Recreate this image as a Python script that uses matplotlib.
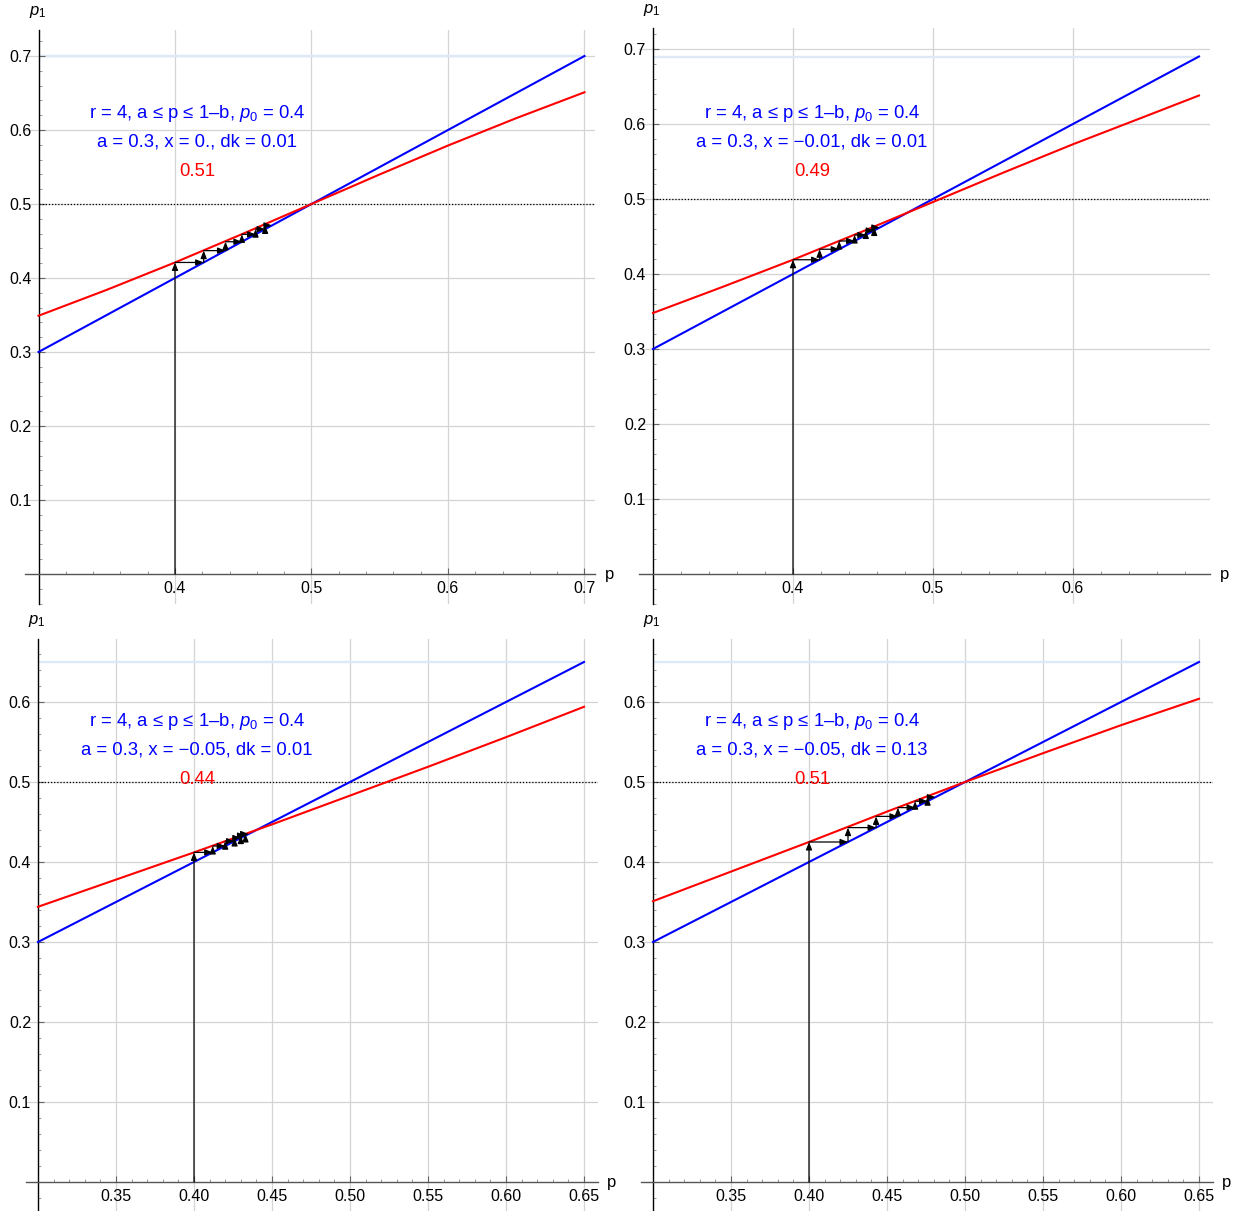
import numpy as np
import matplotlib
matplotlib.use("Agg")
import matplotlib.pyplot as plt
from matplotlib.ticker import FixedLocator, MultipleLocator, FuncFormatter

plt.rcParams['font.family'] = ['Liberation Sans', 'DejaVu Sans']
plt.rcParams['mathtext.fontset'] = 'custom'
plt.rcParams['mathtext.rm'] = 'Liberation Sans'
plt.rcParams['mathtext.it'] = 'Liberation Sans:italic'

W, H = 1239, 1211

# ---------------- data ----------------
# upper bound 1-b of each panel
upper = [0.70, 0.69, 0.65, 0.65]

# red map curve samples
p_tl = [0.30, 0.35, 0.40, 0.45, 0.50, 0.55, 0.60, 0.65, 0.70]
f_tl = [0.349, 0.384, 0.421, 0.460, 0.500, 0.540, 0.579, 0.616, 0.651]
p_tr = [0.30, 0.35, 0.40, 0.45, 0.50, 0.55, 0.60, 0.65, 0.69]
f_tr = [0.348, 0.383, 0.419, 0.457, 0.496, 0.535, 0.573, 0.609, 0.638]
p_bl = [0.30, 0.35, 0.40, 0.45, 0.50, 0.55, 0.60, 0.65]
f_bl = [0.344, 0.378, 0.412, 0.447, 0.483, 0.519, 0.556, 0.594]
p_br = [0.30, 0.35, 0.40, 0.45, 0.50, 0.55, 0.60, 0.65]
f_br = [0.351, 0.388, 0.425, 0.463, 0.500, 0.536, 0.571, 0.604]

# cobweb iterates (p0 = 0.4)
cob_tl = [0.400, 0.421, 0.437, 0.449, 0.459, 0.466, 0.471]
cob_tr = [0.400, 0.419, 0.433, 0.444, 0.452, 0.458, 0.462]
cob_bl = [0.400, 0.412, 0.420, 0.426, 0.430, 0.433, 0.435]
cob_br = [0.400, 0.425, 0.443, 0.457, 0.468, 0.476, 0.481]

line1 = ["r = 4, a \u2264 p \u2264 1\u2013b, $p_0$ = 0.4"] * 4
line2 = ["a = 0.3, x = 0., dk = 0.01",
         "a = 0.3, x = \u22120.01, dk = 0.01",
         "a = 0.3, x = \u22120.05, dk = 0.01",
         "a = 0.3, x = \u22120.05, dk = 0.13"]
red_labels = ["0.51", "0.49", "0.44", "0.51"]

xticks_top_tl = [0.4, 0.5, 0.6, 0.7]
xticks_top_tr = [0.4, 0.5, 0.6]
xticks_bottom = [0.35, 0.40, 0.45, 0.50, 0.55, 0.60, 0.65]
yticks_top = [0.1, 0.2, 0.3, 0.4, 0.5, 0.6, 0.7]
yticks_bottom = [0.1, 0.2, 0.3, 0.4, 0.5, 0.6]

# ---------------- layout ----------------
panels = [
    dict(x0=38.5, sx=1365, y0=574, sy=740, xlim=(0.29, 0.708), ylim=(-0.04, 0.735),
         p=p_tl, f=f_tl, cob=cob_tl, xt=xticks_top_tl, yt=yticks_top, xminor=0.02, xfmt="%.1f",
         txt_x=197, txt_y=(114, 142, 171)),
    dict(x0=653, sx=1400, y0=574, sy=750, xlim=(0.29, 0.698), ylim=(-0.04, 0.728),
         p=p_tr, f=f_tr, cob=cob_tr, xt=xticks_top_tr, yt=yticks_top, xminor=0.02, xfmt="%.1f",
         txt_x=812, txt_y=(114, 142, 171)),
    dict(x0=38, sx=1560, y0=1182, sy=800, xlim=(0.292, 0.659), ylim=(-0.037, 0.679),
         p=p_bl, f=f_bl, cob=cob_bl, xt=xticks_bottom, yt=yticks_bottom, xminor=0.01, xfmt="%.2f",
         txt_x=197, txt_y=(721, 750, 779)),
    dict(x0=653, sx=1560, y0=1182, sy=800, xlim=(0.292, 0.659), ylim=(-0.037, 0.679),
         p=p_br, f=f_br, cob=cob_br, xt=xticks_bottom, yt=yticks_bottom, xminor=0.01, xfmt="%.2f",
         txt_x=812, txt_y=(721, 750, 779)),
]

fig = plt.figure(figsize=(W / 100, H / 100), dpi=100)

for i, P in enumerate(panels):
    left = P['x0'] + (P['xlim'][0] - 0.3) * P['sx']
    right = P['x0'] + (P['xlim'][1] - 0.3) * P['sx']
    bottom = P['y0'] - P['ylim'][0] * P['sy']
    top = P['y0'] - P['ylim'][1] * P['sy']
    ax = fig.add_axes([left / W, 1 - bottom / H, (right - left) / W, (bottom - top) / H])
    ax.set_xlim(*P['xlim'])
    ax.set_ylim(*P['ylim'])
    ax.patch.set_alpha(0)

    for s in ['top', 'right']:
        ax.spines[s].set_visible(False)
    ax.spines['left'].set_position(('data', 0.3))
    ax.spines['bottom'].set_position(('data', 0.0))
    ax.spines['left'].set_color('black')
    ax.spines['bottom'].set_color('#555555')
    ax.spines['left'].set_linewidth(1.0)
    ax.spines['bottom'].set_linewidth(1.0)

    ax.xaxis.set_major_locator(FixedLocator(P['xt']))
    ax.yaxis.set_major_locator(FixedLocator(P['yt']))
    ax.xaxis.set_minor_locator(MultipleLocator(P['xminor']))
    ax.yaxis.set_minor_locator(MultipleLocator(0.02))
    fmt = P['xfmt']
    ax.xaxis.set_major_formatter(FuncFormatter(lambda v, pos, fmt=fmt: fmt % v))
    ax.yaxis.set_major_formatter(FuncFormatter(lambda v, pos: "%.1f" % v))
    ax.tick_params(which='major', direction='in', length=4, width=0.8, color='#666666',
                   labelsize=11.5, pad=5)
    ax.tick_params(which='minor', direction='in', length=2.5, width=0.6, color='#888888')

    # grid
    for xv in P['xt']:
        ax.axvline(xv, color='#d4d4d4', lw=0.9, zorder=0)
    for yv in P['yt']:
        ax.axhline(yv, color='#d4d4d4', lw=0.9, zorder=0)

    u = upper[i]
    # light blue bound line
    ax.plot([0.3, u], [u, u], color='#dde9f6', lw=1.7, zorder=1, solid_capstyle='butt')
    # dotted line at 0.5
    ax.plot([0.3, P['xlim'][1]], [0.5, 0.5], color='black', lw=0.9, ls=(0, (1, 1.5)), zorder=2)
    # diagonal
    ax.plot([0.3, u], [0.3, u], color='#0000ff', lw=1.5, zorder=3)
    # map
    ax.plot(P['p'], P['f'], color='#ff0000', lw=1.5, zorder=3)

    # cobweb
    c = P['cob']
    aprops = dict(arrowstyle='-|>,head_length=0.5,head_width=0.2', lw=0.9, color='black',
                  shrinkA=0, shrinkB=0, mutation_scale=9)
    for k in range(len(c) - 1):
        y_start = 0.0 if k == 0 else c[k]
        ax.annotate('', xy=(c[k], c[k + 1]), xytext=(c[k], y_start), arrowprops=aprops, zorder=4)
        ax.annotate('', xy=(c[k + 1], c[k + 1]), xytext=(c[k], c[k + 1]), arrowprops=aprops, zorder=4)

    # axis labels
    fig.text((P['xlim'][1] - 0.3) * P['sx'] / W + P['x0'] / W + 14 / W, 1 - (P['y0'] + 1) / H, 'p',
             fontsize=12, ha='center', va='center')
    fig.text((P['x0'] - 1) / W, 1 - (P['y0'] - P['ylim'][1] * P['sy'] - 18) / H, '$p_1$',
             fontsize=12, ha='center', va='center')

    # annotation texts
    ty = P['txt_y']
    fig.text(P['txt_x'] / W, 1 - ty[0] / H, line1[i], color='#0000ff', fontsize=13.3,
             ha='center', va='center')
    fig.text(P['txt_x'] / W, 1 - ty[1] / H, line2[i], color='#0000ff', fontsize=13.3,
             ha='center', va='center')
    fig.text(P['txt_x'] / W, 1 - ty[2] / H, red_labels[i], color='#ff0000', fontsize=13.3,
             ha='center', va='center')

fig.savefig('out.png', dpi=100)
